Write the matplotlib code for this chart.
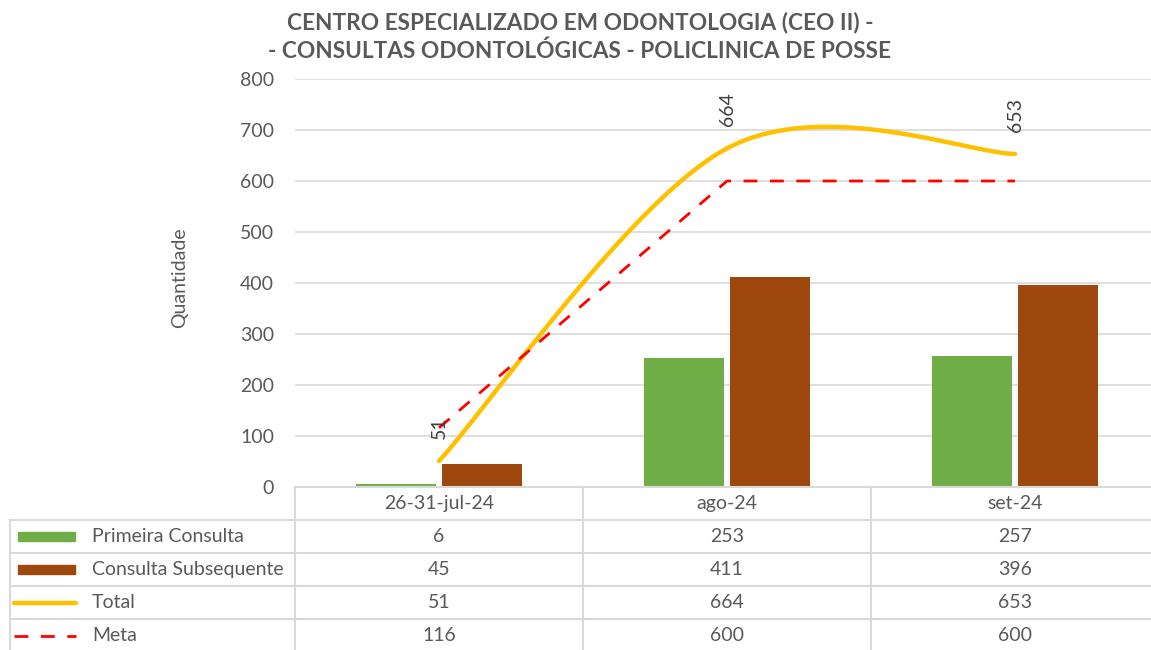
import numpy as np
import matplotlib.pyplot as plt
from matplotlib.patches import Rectangle
from matplotlib.lines import Line2D

# data
categories = ["26-31-jul-24", "ago-24", "set-24"]
primeira = [6, 253, 257]
subsequente = [45, 411, 396]
total = [51, 664, 653]
meta = [116, 600, 600]

series_names = ["Primeira Consulta", "Consulta Subsequente", "Total", "Meta"]

green = "#70AD47"
brown = "#9E480E"
yellow = "#FFC000"
red = "#FF0000"
txt = "#595959"
grid = "#D9D9D9"
fs = 14

plt.rcParams['font.family'] = ['Lato', 'DejaVu Sans']

W, H = 1151, 650
fig = plt.figure(figsize=(W / 100, H / 100), dpi=100)


def fx(px):
    return px / W


def fy(py):
    return 1 - py / H


x0, x1 = 295, 1159
ax = fig.add_axes([fx(x0), fy(487), (x1 - x0) / W, (487 - 79) / H])
ax.set_xlim(-0.5, 2.5)
ax.set_ylim(0, 800)
ax.set_yticks(range(0, 801, 100))
ax.set_xticks([])
ax.grid(axis='y', color=grid, lw=1.2)
ax.set_axisbelow(True)
for s in ['top', 'right', 'left']:
    ax.spines[s].set_visible(False)
ax.spines['bottom'].set_color(grid)
ax.spines['bottom'].set_linewidth(1.5)
ax.tick_params(axis='y', length=0, pad=15, labelsize=fs, labelcolor=txt)

x = np.arange(len(categories))
w = 0.28
off = w / 2 + 0.009
ax.bar(x - off, primeira, w, color=green, zorder=2)
ax.bar(x + off, subsequente, w, color=brown, zorder=2)


# Excel-style smoothed line (cubic bezier through the points)
def smooth(xs, ys, n=60):
    px = list(xs)
    py = list(ys)
    ex = [px[0]] + px + [px[-1]]
    ey = [py[0]] + py + [py[-1]]
    outx, outy = [], []
    t = np.linspace(0, 1, n)
    for i in range(len(px) - 1):
        p0 = np.array([ex[i + 1], ey[i + 1]])
        p3 = np.array([ex[i + 2], ey[i + 2]])
        c1 = p0 + (p3 - np.array([ex[i], ey[i]])) / 6
        c2 = p3 - (np.array([ex[i + 3], ey[i + 3]]) - p0) / 6
        b = ((1 - t) ** 3)[:, None] * p0 + (3 * (1 - t) ** 2 * t)[:, None] * c1 \
            + (3 * (1 - t) * t ** 2)[:, None] * c2 + (t ** 3)[:, None] * p3
        outx.extend(b[:, 0])
        outy.extend(b[:, 1])
    return outx, outy


sx, sy = smooth(x, total)
ax.plot(sx, sy, color=yellow, lw=3.2, solid_capstyle='round', zorder=3)
ax.plot(x, meta, color=red, lw=2, linestyle=(0, (5, 4.5)), zorder=3)

for xi, v in zip(x, total):
    ax.annotate(str(v), (xi, v), xytext=(0, 16), textcoords='offset points',
                rotation=90, ha='center', va='bottom', fontsize=fs, color='#404040')

# title and axis label
fig.text(fx(580), fy(37), "CENTRO ESPECIALIZADO EM ODONTOLOGIA (CEO II) -\n- CONSULTAS ODONTOLÓGICAS - POLICLINICA DE POSSE",
         ha='center', va='center', fontsize=16.3, fontweight='bold', color=txt, linespacing=1.4)
fig.text(fx(180), fy(278), "Quantidade", rotation=90, ha='center', va='center', fontsize=fs, color=txt)

# data table below the plot
tax = fig.add_axes([fx(x0), fy(652), (x1 - x0) / W, (652 - 487) / H], sharex=ax)
tax.set_ylim(5, 0)
tax.axis('off')


def px2x(px):
    return -0.5 + (px - x0) / ((x1 - x0) / 3)


left = px2x(10)
for r in range(1, 6):
    tax.add_line(Line2D([left, 2.5], [r, r], color=grid, lw=1.5, clip_on=False))
tax.add_line(Line2D([left, left], [1, 5], color=grid, lw=1.5, clip_on=False))
for c in [-0.5, 0.5, 1.5, 2.5]:
    tax.add_line(Line2D([c, c], [0, 5], color=grid, lw=1.5, clip_on=False))

for i, cat in enumerate(categories):
    tax.text(i, 0.5, cat, ha='center', va='center', fontsize=fs, color=txt)
rows = [primeira, subsequente, total, meta]
for r, vals in enumerate(rows, start=1):
    for i, v in enumerate(vals):
        tax.text(i, r + 0.5, str(v), ha='center', va='center', fontsize=fs, color=txt)

kx0, kx1 = px2x(18), px2x(75)
tax.add_patch(Rectangle((kx0, 1.35), kx1 - kx0, 0.3, color=green, clip_on=False))
tax.add_patch(Rectangle((kx0, 2.35), kx1 - kx0, 0.3, color=brown, clip_on=False))
tax.add_line(Line2D([px2x(14), px2x(76)], [3.5, 3.5], color=yellow, lw=3.2,
                    solid_capstyle='round', clip_on=False))
tax.add_line(Line2D([px2x(14), px2x(76)], [4.5, 4.5], color=red, lw=2,
                    linestyle=(0, (5, 4.5)), clip_on=False))
for r, name in enumerate(series_names, start=1):
    tax.text(px2x(92), r + 0.5, name, ha='left', va='center', fontsize=fs, color=txt)

fig.savefig("out.png", dpi=100)
